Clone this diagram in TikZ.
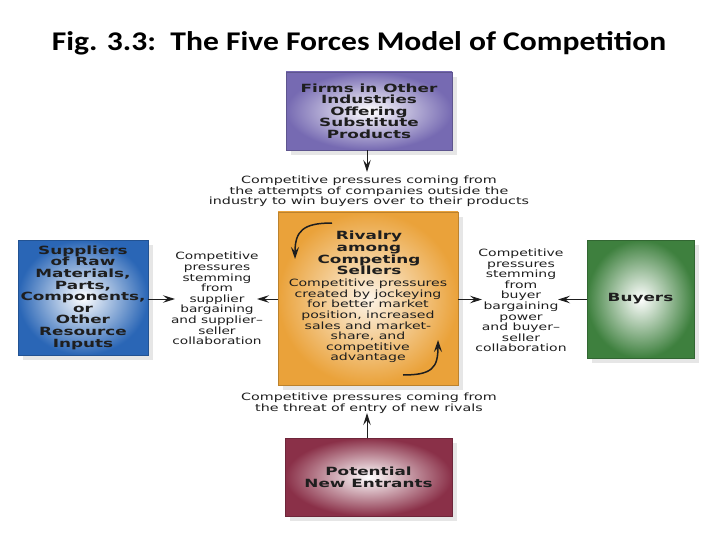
\documentclass[tikz,border=0pt]{standalone}
\usepackage{fontspec}
\usepackage{graphicx}
\setmainfont{Carlito}
\newfontfamily\descfont{DejaVu Sans}
\newfontfamily\boxfont{DejaVu Sans Bold}
\usetikzlibrary{arrows.meta,shadows}
\newcommand{\xs}[2]{\scalebox{#1}[1]{\vbox{\let\\\cr\lineskiplimit=-\maxdimen\halign{\hfil##\hfil\cr#2\crcr}}}}
\definecolor{cpurple}{RGB}{118,106,178}
\definecolor{corange}{RGB}{234,162,58}
\definecolor{cblue}{RGB}{42,102,182}
\definecolor{cgreen}{RGB}{62,128,62}
\definecolor{cmaroon}{RGB}{138,48,72}
\definecolor{ctext}{RGB}{30,30,30}
\tikzset{
  forcebox/.style={draw=#1!80!black, line width=0.6pt, inner color=white, outer color=#1,
    drop shadow={shadow xshift=5pt, shadow yshift=-5pt, opacity=0.2},
    align=center, font=\boxfont\fontsize{11.3}{11.6}\selectfont, text=ctext, inner sep=0pt},
  boxtext/.style={font=\boxfont\fontsize{11.3}{11.6}\selectfont, text=ctext, inner sep=0pt},
  desc/.style={font=\descfont\fontsize{10}{10.6}\selectfont, text=ctext, inner sep=0pt},
  conn/.style={line width=1pt, draw=ctext, -{Stealth[length=12pt,width=7.5pt,inset=4.5pt]}},
  curl/.style={line width=1.5pt, draw=ctext, -{Stealth[length=12pt,width=8pt,inset=4.5pt]}},
}
\begin{document}
\begin{tikzpicture}[x=1pt,y=-1pt]
\useasboundingbox (0,0) rectangle (720,540);
\node[font=\bfseries\fontsize{27}{27}\selectfont, inner sep=0pt] (title) at (359,43) {\scalebox{1.17}[1]{Fig. 3.3:\ \ The Five Forces Model of Competition}};

\node[forcebox=cpurple, minimum width=166pt, minimum height=78pt] (sub) at (369,111)
  {\xs{1.49}{Firms in Other\\Industries\\Offering\\Substitute\\Products}};
\node[forcebox=corange, minimum width=180pt, minimum height=173pt, inner color=corange!12] (riv) at (368,298.5) {};
\node[forcebox=cblue, minimum width=130pt, minimum height=115pt] (sup) at (83,297.5)
  {\raisebox{-3pt}{\xs{1.49}{Suppliers\\of Raw\\Materials,\\Parts,\\Components,\\or\\Other\\Resource\\Inputs}}};
\node[forcebox=cgreen, minimum width=107pt, minimum height=118pt] (buy) at (640.5,299) {\xs{1.49}{Buyers}};
\node[forcebox=cmaroon, minimum width=167pt, minimum height=78pt] (ent) at (368.5,477)
  {\xs{1.49}{Potential\\New Entrants}};

\node[boxtext] (rivt) at (369,253)
  {\xs{1.49}{Rivalry\\among\\Competing\\Sellers}};
\node[desc] (rivd) at (368,321)
  {\xs{1.41}{Competitive pressures\\created by jockeying\\for better market\\position, increased\\sales and market-\\share, and\\competitive\\advantage}};

\node[desc] (topd) at (369,191.5)
  {\xs{1.43}{Competitive pressures coming from\\the attempts of companies outside the\\industry to win buyers over to their products}};
\node[desc] (botd) at (369,403)
  {\xs{1.43}{Competitive pressures coming from\\the threat of entry of new rivals}};
\node[desc] (leftd) at (217,298.5)
  {\xs{1.37}{Competitive\\pressures\\stemming\\from\\supplier\\bargaining\\and supplier–\\seller\\collaboration}};
\node[desc] (rightd) at (521,300.5)
  {\xs{1.4}{Competitive\\pressures\\stemming\\from\\buyer\\bargaining\\power\\and buyer–\\seller\\collaboration}};

\coordinate (ta) at (367,172);
\coordinate (ba) at (367,413);
\coordinate (la1) at (175,299);
\coordinate (la2) at (257,299);
\coordinate (ra1) at (482,299.5);
\coordinate (ra2) at (558,299.5);
\draw[conn] (sub.south -| ta) -- (ta);
\draw[conn] (ent.north -| ba) -- (ba);
\draw[conn] (sup.east |- la1) -- (la1);
\draw[conn] (riv.west |- la2) -- (la2);
\draw[conn] (riv.east |- ra1) -- (ra1);
\draw[conn] (buy.west |- ra2) -- (ra2);

\coordinate (c1s) at (332,223);
\coordinate (c1e) at (295,259);
\coordinate (c2s) at (403,375);
\coordinate (c2e) at (438,340);
\draw[curl] (c1s) .. controls (303,223) and (295,231) .. (c1e);
\draw[curl] (c2s) .. controls (432,375) and (438,368) .. (c2e);
\end{tikzpicture}
\end{document}
